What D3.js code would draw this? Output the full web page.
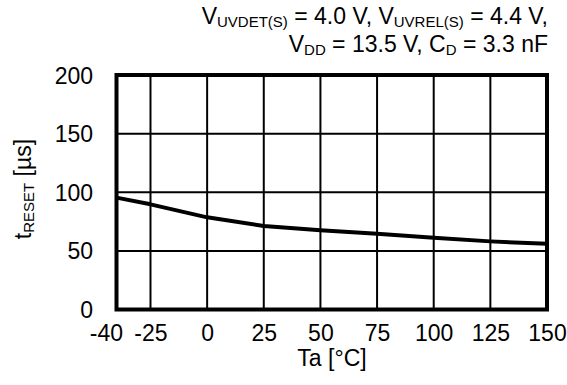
<!DOCTYPE html>
<html>
<head>
<meta charset="utf-8">
<script src="https://cdn.jsdelivr.net/npm/d3@7"></script>
<style>
  html, body { margin: 0; padding: 0; background: #fff; }
  svg { display: block; font-family: "Liberation Sans", Arial, sans-serif; }
</style>
</head>
<body>
<svg id="chart" width="567" height="385"></svg>
<script>
// Data
const temps = [-40, -25, 0, 25, 50, 75, 100, 125, 150];
const tReset = [95.4, 89.7, 78.6, 71.2, 67.5, 64.7, 61.2, 58.1, 56.0];
const xTicks = [-40, -25, 0, 25, 50, 75, 100, 125, 150];
const yTicks = [0, 50, 100, 150, 200];

(function () {
const svg = d3.select("#chart");
const pL = 116.5, pR = 547, pT = 75, pB = 309.5;
const FS = 23, SS = 15;

const x = d3.scaleLinear().domain([-40, 150]).range([pL, pR]);
const y = d3.scaleLinear().domain([0, 200]).range([pB, pT]);

// Grid
const g = svg.append("g");
g.selectAll(".vg").data(xTicks.filter(d => d > -40 && d < 150)).enter()
  .append("line").attr("x1", d => x(d)).attr("x2", d => x(d))
  .attr("y1", pT).attr("y2", pB)
  .attr("stroke", "#000").attr("stroke-width", 2);
g.selectAll(".hg").data(yTicks.filter(d => d > 0 && d < 200)).enter()
  .append("line").attr("x1", pL).attr("x2", pR)
  .attr("y1", d => y(d)).attr("y2", d => y(d))
  .attr("stroke", "#000").attr("stroke-width", 2);

// Curve
const line = d3.line().x((d, i) => x(temps[i])).y(d => y(d));
svg.append("path").datum(tReset).attr("d", line)
  .attr("fill", "none").attr("stroke", "#000").attr("stroke-width", 4)
  .attr("stroke-linejoin", "round");

// Frame
svg.append("rect").attr("x", pL).attr("y", pT)
  .attr("width", pR - pL).attr("height", pB - pT)
  .attr("fill", "none").attr("stroke", "#000").attr("stroke-width", 4);

// Axes (labels only)
const yAxis = d3.axisLeft(y).tickValues(yTicks).tickSize(0).tickPadding(0)
  .tickFormat(d => String(d));
const ya = svg.append("g").attr("transform", "translate(93,0)").call(yAxis);
ya.select(".domain").remove();
ya.selectAll("text").attr("font-size", FS).attr("fill", "#000")
  .attr("font-family", "Liberation Sans, Arial, sans-serif")
  .attr("dy", "0.35em").attr("x", 0);

const xAxis = d3.axisBottom(x).tickValues(xTicks).tickSize(0).tickPadding(0)
  .tickFormat(d => String(d));
const xa = svg.append("g").attr("transform", "translate(0,325)").call(xAxis);
xa.select(".domain").remove();
xa.selectAll("text").attr("font-size", FS).attr("fill", "#000")
  .attr("font-family", "Liberation Sans, Arial, sans-serif")
  .attr("y", 0).attr("dy", "0.71em");
// first label sits left of its gridline, ending just past it
xa.selectAll(".tick").filter(d => d === xTicks[0]).select("text")
  .attr("text-anchor", "end").attr("x", 6);

// X title
svg.append("text").attr("x", 332).attr("y", 366).attr("text-anchor", "middle")
  .attr("font-size", FS).text("Ta [°C]");

// Y title
const yt = svg.append("text").attr("transform", "translate(31,189) rotate(-90)")
  .attr("text-anchor", "middle").attr("font-size", FS);
yt.append("tspan").text("t");
yt.append("tspan").attr("font-size", SS).attr("dy", 3).text("RESET");
yt.append("tspan").attr("dy", -3).text(" [µs]");

// Header conditions
const h1 = svg.append("text").attr("x", 548).attr("y", 24).attr("text-anchor", "end").attr("font-size", FS);
h1.append("tspan").text("V");
h1.append("tspan").attr("font-size", SS).attr("dy", 3).text("UVDET(S)");
h1.append("tspan").attr("dy", -3).text(" = 4.0 V, V");
h1.append("tspan").attr("font-size", SS).attr("dy", 3).text("UVREL(S)");
h1.append("tspan").attr("dy", -3).text(" = 4.4 V,");

const h2 = svg.append("text").attr("x", 548).attr("y", 52).attr("text-anchor", "end").attr("font-size", FS);
h2.append("tspan").text("V");
h2.append("tspan").attr("font-size", SS).attr("dy", 3).text("DD");
h2.append("tspan").attr("dy", -3).text(" = 13.5 V, C");
h2.append("tspan").attr("font-size", SS).attr("dy", 3).text("D");
h2.append("tspan").attr("dy", -3).text(" = 3.3 nF");
})();
</script>
</body>
</html>
